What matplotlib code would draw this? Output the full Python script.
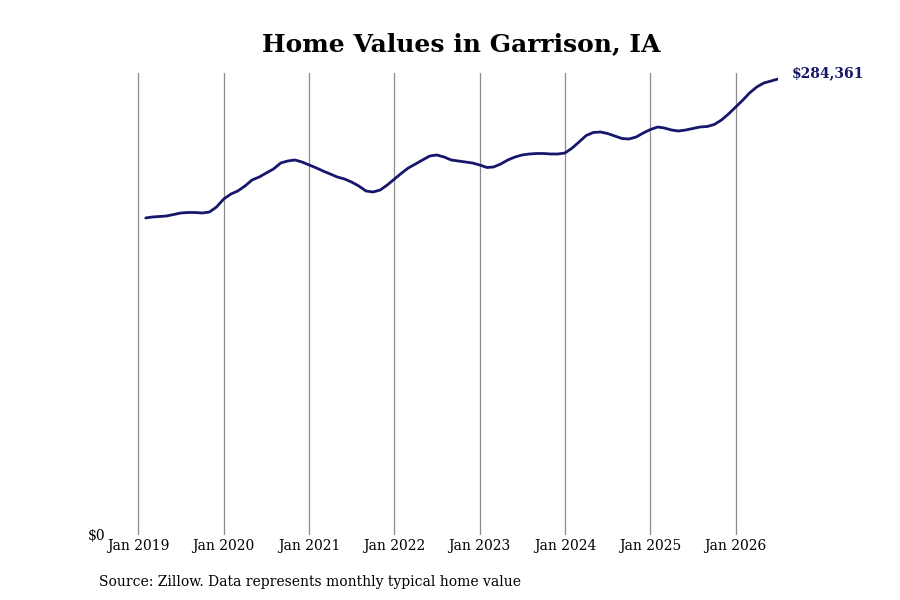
import pandas as pd
import matplotlib
matplotlib.use('Agg')
import matplotlib.pyplot as plt

plt.rcParams['font.family'] = 'DejaVu Serif'

# monthly typical home value, Feb 2019 .. Jul 2026
values = [
    197700, 198300, 198620, 198930, 199860, 200800, 201110, 201110, 200800, 201420, 204540,
    209530, 212650, 214520, 217640, 221380, 223250, 225740, 228240, 231980, 233230, 233850, 232600,
    230730, 228860, 226990, 225120, 223250, 222000, 220130, 217640, 214520, 213890, 215140, 218260,
    222000, 225740, 228860, 231360, 233850, 236340, 236970, 235720, 233850, 233230, 232600, 231980,
    230730, 229170, 229480, 231360, 233850, 235720, 236970, 237590, 237900, 237900, 237590, 237590,
    238220, 241330, 245070, 249130, 251000, 251310, 250380, 248820, 247260, 246950, 248190, 250690,
    252870, 254430, 253810, 252560, 251930, 252560, 253490, 254430, 254740, 255990, 258790, 262530,
    266900, 271270, 275630, 279370, 281860, 283110, 284361,
]
dates = pd.date_range('2019-02-01', periods=len(values), freq='MS')
tick_years = list(range(2019, 2027))
tick_labels = [f'Jan {y}' for y in tick_years]

fig = plt.figure(figsize=(9, 6), dpi=100)
ax = fig.add_axes([110 / 900, 65 / 600, 668 / 900, 462 / 600])

ax.plot(dates, values, color='#16166b', linewidth=2.0, solid_capstyle='round')

ticks = [pd.Timestamp(f'{y}-01-01') for y in tick_years]
ax.set_xticks(ticks)
ax.set_xticklabels(tick_labels, fontsize=10)
ax.set_xlim(pd.Timestamp('2018-09-01'), dates[-1])
ax.set_ylim(0, 288100)
ax.set_yticks([0])
ax.set_yticklabels(['$0'], fontsize=10)
ax.tick_params(length=0, pad=3)
ax.xaxis.grid(True, color='#8c8c8c', linewidth=0.9)
for s in ax.spines.values():
    s.set_visible(False)

ax.annotate(f'${values[-1]:,}', (dates[-1], 288100), xytext=(10, 0),
            textcoords='offset points', fontsize=10, fontweight='bold',
            color='#16166b', va='center', ha='left', annotation_clip=False)

fig.text(0.512, 0.927, 'Home Values in Garrison, IA', ha='center', va='center',
         fontsize=18, fontweight='bold')
fig.text(99 / 900, 1 - 582 / 600, 'Source: Zillow. Data represents monthly typical home value',
         ha='left', va='center', fontsize=10)

fig.savefig('out.png', dpi=100)
